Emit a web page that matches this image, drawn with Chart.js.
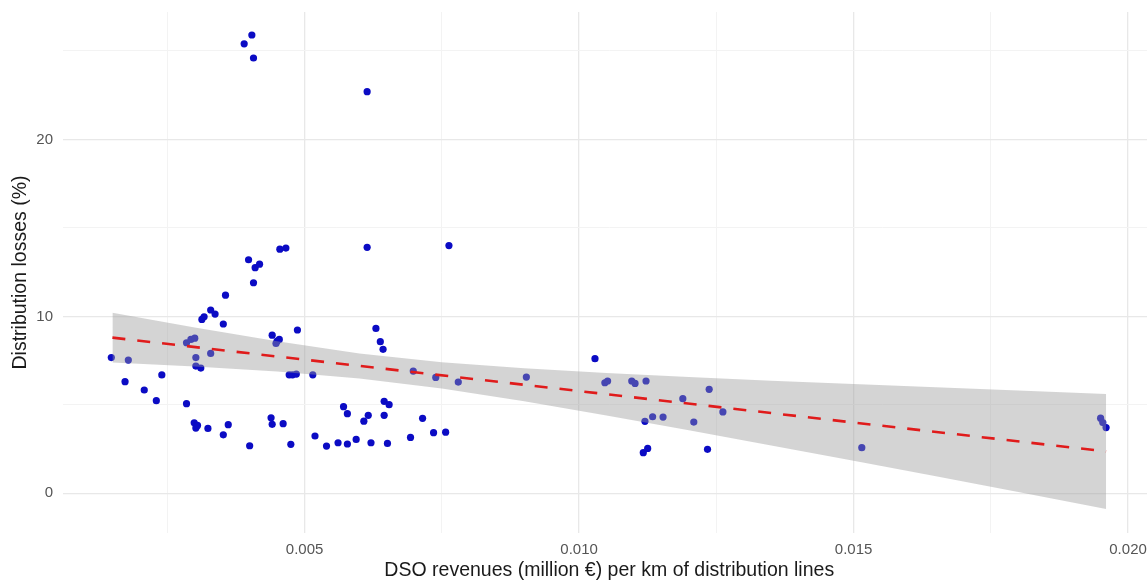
<!DOCTYPE html>
<html>
<head>
<meta charset="utf-8">
<script src="https://cdn.jsdelivr.net/npm/chart.js@4/dist/chart.umd.min.js"></script>
<style>
  html, body { margin: 0; padding: 0; background: #ffffff; overflow: hidden; }
  #wrap { position: relative; width: 1165px; height: 582px; }
</style>
</head>
<body>
<div id="wrap"><canvas id="c"></canvas></div>
<script>
// DSO revenues (million € per km) and distribution losses (%)
const revenueX = [
  0.00404, 0.00390, 0.00407, 0.00614, 0.00614, 0.00455, 0.00466, 0.00398, 0.00410, 0.00418,
  0.00407, 0.00356, 0.00763, 0.00148, 0.00179, 0.00173, 0.00208, 0.00240, 0.00230, 0.00285,
  0.00299, 0.00303, 0.00302, 0.00305, 0.00324, 0.00352, 0.00361, 0.00400, 0.00439, 0.00441,
  0.00461, 0.00475, 0.00519, 0.00540, 0.00313, 0.00317, 0.00329, 0.00337, 0.00352, 0.00285,
  0.00293, 0.00300, 0.00302, 0.00329, 0.00302, 0.00311, 0.00441, 0.00450, 0.00454, 0.00448,
  0.00487, 0.00472, 0.00478, 0.00485, 0.00515, 0.00630, 0.00638, 0.00643, 0.00698, 0.00739,
  0.00780, 0.00904, 0.00571, 0.00578, 0.00608, 0.00616, 0.00645, 0.00654, 0.00645, 0.00715,
  0.00561, 0.00578, 0.00594, 0.00621, 0.00651, 0.00693, 0.00735, 0.00757, 0.01029, 0.01047,
  0.01052, 0.01096, 0.01102, 0.01122, 0.01237, 0.01189, 0.01262, 0.01209, 0.01120, 0.01134,
  0.01153, 0.01117, 0.01125, 0.01234, 0.01515, 0.01950, 0.01954, 0.01960
];
const lossesY = [
  25.9, 25.4, 24.6, 22.7, 13.9, 13.8, 13.86, 13.2, 12.75, 12.95,
  11.9, 11.2, 14.0, 7.67, 7.53, 6.31, 5.84, 6.69, 5.24, 5.07,
  3.99, 3.80, 3.69, 3.84, 3.67, 3.31, 3.88, 2.69, 4.27, 3.90,
  3.94, 2.77, 3.24, 2.67, 9.83, 9.98, 10.36, 10.13, 9.57, 8.51,
  8.70, 8.77, 7.67, 7.91, 7.19, 7.08, 8.94, 8.60, 8.70, 8.47,
  9.23, 6.70, 6.70, 6.74, 6.70, 9.32, 8.57, 8.14, 6.91, 6.55,
  6.29, 6.57, 4.90, 4.50, 4.08, 4.41, 5.20, 5.01, 4.41, 4.24,
  2.86, 2.79, 3.05, 2.86, 2.82, 3.16, 3.43, 3.46, 7.61, 6.25,
  6.35, 6.35, 6.21, 6.35, 5.88, 5.35, 4.60, 4.03, 4.07, 4.33,
  4.31, 2.30, 2.54, 2.49, 2.58, 4.25, 4.00, 3.72
];

// linear fit (red dashed) endpoints
const fitX = [0.0015, 0.0196];
const fitY = [8.8, 2.37];

// confidence band (grey ribbon)
const bandX     = [0.0015, 0.0030, 0.0045, 0.0060, 0.0075, 0.0090, 0.0105, 0.0120, 0.0135, 0.0150, 0.0165, 0.0180, 0.0196];
const bandUpper = [10.2, 9.37, 8.59, 7.91, 7.41, 7.07, 6.80, 6.57, 6.37, 6.18, 6.00, 5.81, 5.62];
const bandLower = [7.4, 7.17, 6.89, 6.49, 5.93, 5.21, 4.40, 3.57, 2.71, 1.84, 0.96, 0.07, -0.88];

// axis ticks
const xTickValues = [0.0025, 0.005, 0.0075, 0.010, 0.0125, 0.015, 0.0175, 0.020];
const xTickLabels = ["", "0.005", "", "0.010", "", "0.015", "", "0.020"];
const yTickValues = [0, 5, 10, 15, 20, 25];
const yTickLabels = ["0", "", "10", "", "20", ""];

const xTitle = "DSO revenues (million €) per km of distribution lines";
const yTitle = "Distribution losses (%)";

const pts = revenueX.map((x, i) => ({ x: x, y: lossesY[i] }));
const fitPts = fitX.map((x, i) => ({ x: x, y: fitY[i] }));
const upPts = bandX.map((x, i) => ({ x: x, y: bandUpper[i] }));
const loPts = bandX.map((x, i) => ({ x: x, y: bandLower[i] }));

const FONT = "'Liberation Sans', Arial, sans-serif";

new Chart(document.getElementById('c'), {
  type: 'scatter',
  data: {
    datasets: [
      {
        type: 'line', label: 'fit', data: fitPts, order: 0,
        borderColor: '#e01b1b', borderWidth: 2.6, borderDash: [13, 12], borderCapStyle: 'butt',
        pointRadius: 0, fill: false, tension: 0
      },
      {
        type: 'line', label: 'lower', data: loPts, order: 1,
        borderWidth: 0, borderColor: 'rgba(0,0,0,0)', pointRadius: 0, fill: false, tension: 0
      },
      {
        type: 'line', label: 'upper', data: upPts, order: 1,
        borderWidth: 0, borderColor: 'rgba(0,0,0,0)', pointRadius: 0, tension: 0,
        fill: '-1', backgroundColor: 'rgba(153,153,153,0.42)'
      },
      {
        label: 'points', data: pts, order: 2,
        pointRadius: 3.6, pointBackgroundColor: '#0b0bc4', pointBorderWidth: 0,
        pointBorderColor: '#0b0bc4'
      }
    ]
  },
  options: {
    responsive: true,
    maintainAspectRatio: false,
    animation: false,
    events: [],
    layout: { padding: { left: 0, right: 9.5, top: 12, bottom: 0 } },
    plugins: { legend: { display: false }, tooltip: { enabled: false } },
    scales: {
      x: {
        type: 'linear', min: 0.0006, max: 0.0205,
        afterBuildTicks: (s) => { s.ticks = xTickValues.map(v => ({ value: v })); },
        afterFit: (s) => { s.height = 49; s.paddingLeft = 0; s.paddingRight = 0; },
        border: { display: false },
        grid: {
          drawTicks: false,
          color: (ctx) => { const i = xTickValues.indexOf(ctx.tick && ctx.tick.value); return (i % 2 === 1) ? '#e8e8e8' : '#f3f3f3'; },
          lineWidth: (ctx) => { const i = xTickValues.indexOf(ctx.tick && ctx.tick.value); return (i % 2 === 1) ? 1.3 : 1; }
        },
        ticks: {
          autoSkip: false, maxRotation: 0, padding: 8,
          color: '#555555', font: { family: FONT, size: 15 },
          callback: (v) => { const i = xTickValues.indexOf(v); return i >= 0 ? xTickLabels[i] : ''; }
        },
        title: {
          display: true, text: xTitle, color: '#1a1a1a',
          font: { family: FONT, size: 19.5 }, padding: { top: 0, bottom: 0 }
        }
      },
      y: {
        type: 'linear', min: -2.24, max: 27.2,
        afterBuildTicks: (s) => { s.ticks = yTickValues.map(v => ({ value: v })); },
        afterFit: (s) => { s.width = 63; s.paddingTop = 0; s.paddingBottom = 0; },
        border: { display: false },
        grid: {
          drawTicks: false,
          color: (ctx) => { const i = yTickValues.indexOf(ctx.tick && ctx.tick.value); return (i % 2 === 0) ? '#e8e8e8' : '#f3f3f3'; },
          lineWidth: (ctx) => { const i = yTickValues.indexOf(ctx.tick && ctx.tick.value); return (i % 2 === 0) ? 1.3 : 1; }
        },
        ticks: {
          autoSkip: false, padding: 10,
          color: '#555555', font: { family: FONT, size: 15 },
          callback: (v) => { const i = yTickValues.indexOf(v); return i >= 0 ? yTickLabels[i] : ''; }
        },
        title: {
          display: true, text: yTitle, color: '#1a1a1a',
          font: { family: FONT, size: 19.5 }, padding: { top: 9, bottom: 0 }
        }
      }
    }
  }
});
</script>
</body>
</html>
